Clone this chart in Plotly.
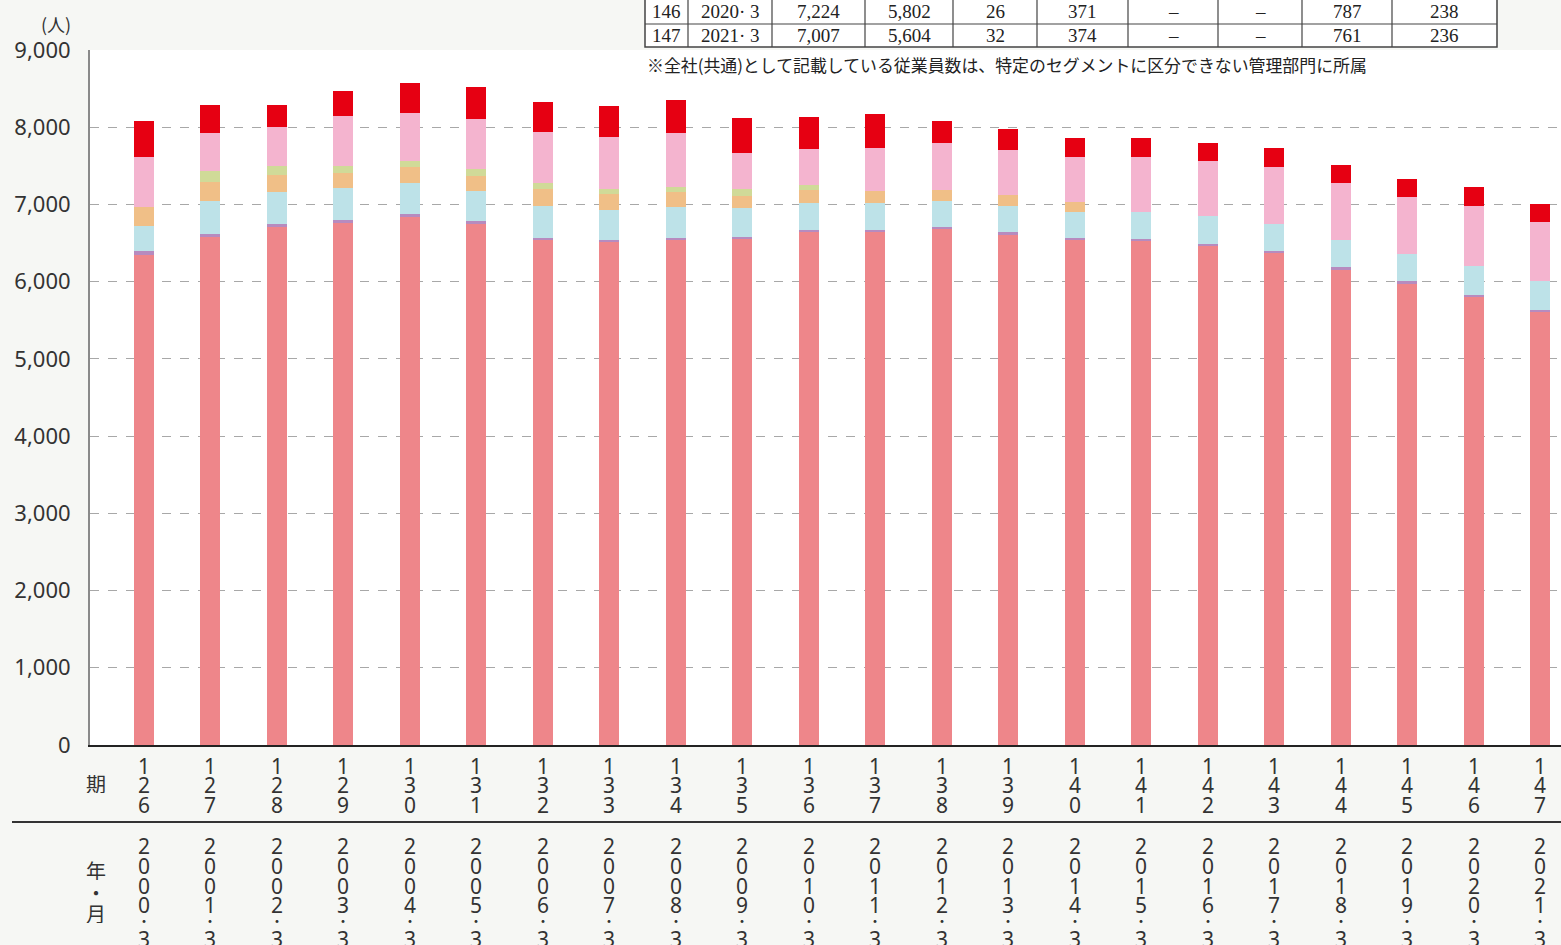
import plotly.graph_objects as go

# Fiscal periods and year-month of each period end
periods = [126, 127, 128, 129, 130, 131, 132, 133, 134, 135, 136,
           137, 138, 139, 140, 141, 142, 143, 144, 145, 146, 147]
year_labels = ["2000", "2001", "2002", "2003", "2004", "2005", "2006", "2007",
               "2008", "2009", "2010", "2011", "2012", "2013", "2014", "2015",
               "2016", "2017", "2018", "2019", "2020", "2021"]
month_label = "3"

# Employees by segment (persons), stacked bottom to top
seg_main = [6350, 6580, 6708, 6760, 6838, 6747, 6540, 6514, 6540, 6553, 6643,
            6643, 6682, 6605, 6540, 6527, 6462, 6371, 6155, 5974, 5802, 5604]
seg_purple = [48, 38, 39, 39, 38, 39, 26, 26, 26, 26, 26,
              26, 26, 38, 26, 26, 26, 26, 35, 35, 26, 32]
seg_blue = [325, 428, 414, 414, 402, 388, 414, 388, 401, 375, 350,
            350, 337, 337, 336, 349, 362, 350, 350, 349, 371, 374]
seg_orange = [250, 246, 220, 194, 207, 195, 220, 207, 194, 156, 168,
              155, 142, 143, 134, 0, 0, 0, 0, 0, 0, 0]
seg_green = [0, 142, 117, 91, 78, 90, 78, 65, 65, 90, 65,
             0, 0, 0, 0, 0, 0, 0, 0, 0, 0, 0]
seg_pink = [645, 492, 505, 647, 621, 648, 660, 673, 699, 466, 466,
            557, 609, 582, 579, 713, 713, 738, 738, 739, 787, 761]
seg_common = [465, 363, 285, 324, 389, 414, 389, 402, 428, 454, 415,
              440, 285, 272, 246, 246, 233, 246, 233, 233, 238, 236]

series = [seg_main, seg_purple, seg_blue, seg_orange, seg_green, seg_pink, seg_common]
colors = ["#ee868a", "#b78bbf", "#bde2e8", "#f0bf87", "#d0da98", "#f4b4cf", "#e60012"]

y_ticks = [0, 1000, 2000, 3000, 4000, 5000, 6000, 7000, 8000, 9000]

BG = "#f6f7f4"
TXT = "#333333"
SANS = "Noto Sans, Noto Sans CJK JP, sans-serif"
JP = "Noto Sans CJK JP, Noto Sans, sans-serif"
SERIF = "Liberation Serif, DejaVu Serif, serif"

W, H = 1561, 945
ML, MR, MT, MB = 90, 0, 50, 200
PW, PH = W - ML - MR, H - MT - MB


def px_x(px):
    return (px - ML) / PW


def px_y(py):
    return (H - MB - py) / PH


xs = list(range(len(periods)))

fig = go.Figure()
for vals, col in zip(series, colors):
    fig.add_trace(go.Bar(x=xs, y=vals, width=0.3, marker=dict(color=col, line=dict(width=0)),
                         showlegend=False, hoverinfo="y"))

annotations = []
shapes = []

# Vertical stacked labels under each bar: period number, then year and month
for i, p in enumerate(periods):
    for k, ch in enumerate(str(p)):
        annotations.append(dict(x=i, xref="x", y=0, yref="paper", yanchor="middle",
                                yshift=-(20 + k * 19.5), text=ch, showarrow=False,
                                height=19, width=16,
                                font=dict(family=SANS, size=21, color=TXT)))
    chars = list(year_labels[i]) + ["・", month_label]
    offs = [100, 120, 140, 159, 175, 193]
    hts = [19, 19, 19, 17, 10, 19]
    for ch, off, ht in zip(chars, offs, hts):
        is_dot = ch == "・"
        annotations.append(dict(x=i, xref="x", y=0, yref="paper", yanchor="middle",
                                yshift=-off, text=ch, showarrow=False,
                                height=ht, width=16,
                                font=dict(family=JP if is_dot else SANS,
                                          size=14 if is_dot else 21, color=TXT)))

# Row headers on the left
for ch, py in [("期", 783), ("年", 870), ("・", 892), ("月", 913)]:
    annotations.append(dict(x=px_x(96), xref="paper", y=px_y(py), yref="paper",
                            text=ch, showarrow=False, xanchor="center", yanchor="middle",
                            height=20,
                            font=dict(family=JP, size=20, color=TXT)))

# Unit label
annotations.append(dict(x=px_x(56), xref="paper", y=px_y(24), yref="paper",
                        text="(人)", showarrow=False, xanchor="center", yanchor="middle",
                        font=dict(family=JP, size=18, color=TXT)))

# Separator between period row and year row
shapes.append(dict(type="line", xref="paper", yref="paper",
                   x0=px_x(12), x1=px_x(W), y0=px_y(822), y1=px_y(822),
                   line=dict(color="#333333", width=2)))

# Footnote
annotations.append(dict(x=px_x(645), xref="paper", y=px_y(65), yref="paper",
                        text="※全社(共通)として記載している従業員数は、特定のセグメントに区分できない管理部門に所属",
                        showarrow=False, xanchor="left", yanchor="middle",
                        font=dict(family=JP, size=16.9, color="#222222")))

# Data table for the last two periods
col_edges = [645, 688, 772, 865, 953, 1037, 1128, 1218, 1302, 1392, 1497]
row_edges = [-2, 24, 47]
shapes.append(dict(type="rect", xref="paper", yref="paper",
                   x0=px_x(col_edges[0]), x1=px_x(col_edges[-1]),
                   y0=px_y(row_edges[0]), y1=px_y(row_edges[-1]),
                   fillcolor="white", line=dict(color="#444444", width=1.5), layer="above"))
for cx in col_edges[1:-1]:
    shapes.append(dict(type="line", xref="paper", yref="paper",
                       x0=px_x(cx), x1=px_x(cx), y0=px_y(row_edges[0]), y1=px_y(row_edges[-1]),
                       line=dict(color="#444444", width=1.2), layer="above"))
shapes.append(dict(type="line", xref="paper", yref="paper",
                   x0=px_x(col_edges[0]), x1=px_x(col_edges[-1]),
                   y0=px_y(row_edges[1]), y1=px_y(row_edges[1]),
                   line=dict(color="#444444", width=1.2), layer="above"))


def fmt(v):
    return "–" if v == 0 else f"{v:,}"


for r, idx in enumerate([len(periods) - 2, len(periods) - 1]):
    total = sum(s[idx] for s in series)
    cells = [str(periods[idx]), f"{year_labels[idx]}· {month_label}", f"{total:,}"] + \
            [fmt(s[idx]) for s in series]
    cy = (row_edges[r] + row_edges[r + 1]) / 2 + (1 if r == 0 else 0)
    for c, txt in enumerate(cells):
        cx = (col_edges[c] + col_edges[c + 1]) / 2
        annotations.append(dict(x=px_x(cx), xref="paper", y=px_y(cy), yref="paper",
                                text=txt, showarrow=False, xanchor="center", yanchor="middle",
                                font=dict(family=SERIF, size=19, color="#222222")))

fig.update_layout(
    width=W, height=H,
    margin=dict(l=ML, r=MR, t=MT, b=MB, pad=0),
    paper_bgcolor=BG, plot_bgcolor="white",
    barmode="stack", bargap=0.7,
    annotations=annotations, shapes=shapes,
    xaxis=dict(range=[-0.81, 21.31], showticklabels=False, showgrid=False, zeroline=False,
               showline=True, linecolor="#222222", linewidth=1.5, ticks="", fixedrange=True),
    yaxis=dict(range=[0, 9000], tickvals=y_ticks, tickformat=",", showgrid=True,
               gridcolor="#a8a8a8", gridwidth=1.2, griddash="dash", zeroline=False,
               showline=True, linecolor="#8a8a8a", linewidth=2, ticks="",
               ticklabelstandoff=13,
               tickfont=dict(family=SANS, size=22, color=TXT), fixedrange=True),
)

fig.write_html("out.html")
